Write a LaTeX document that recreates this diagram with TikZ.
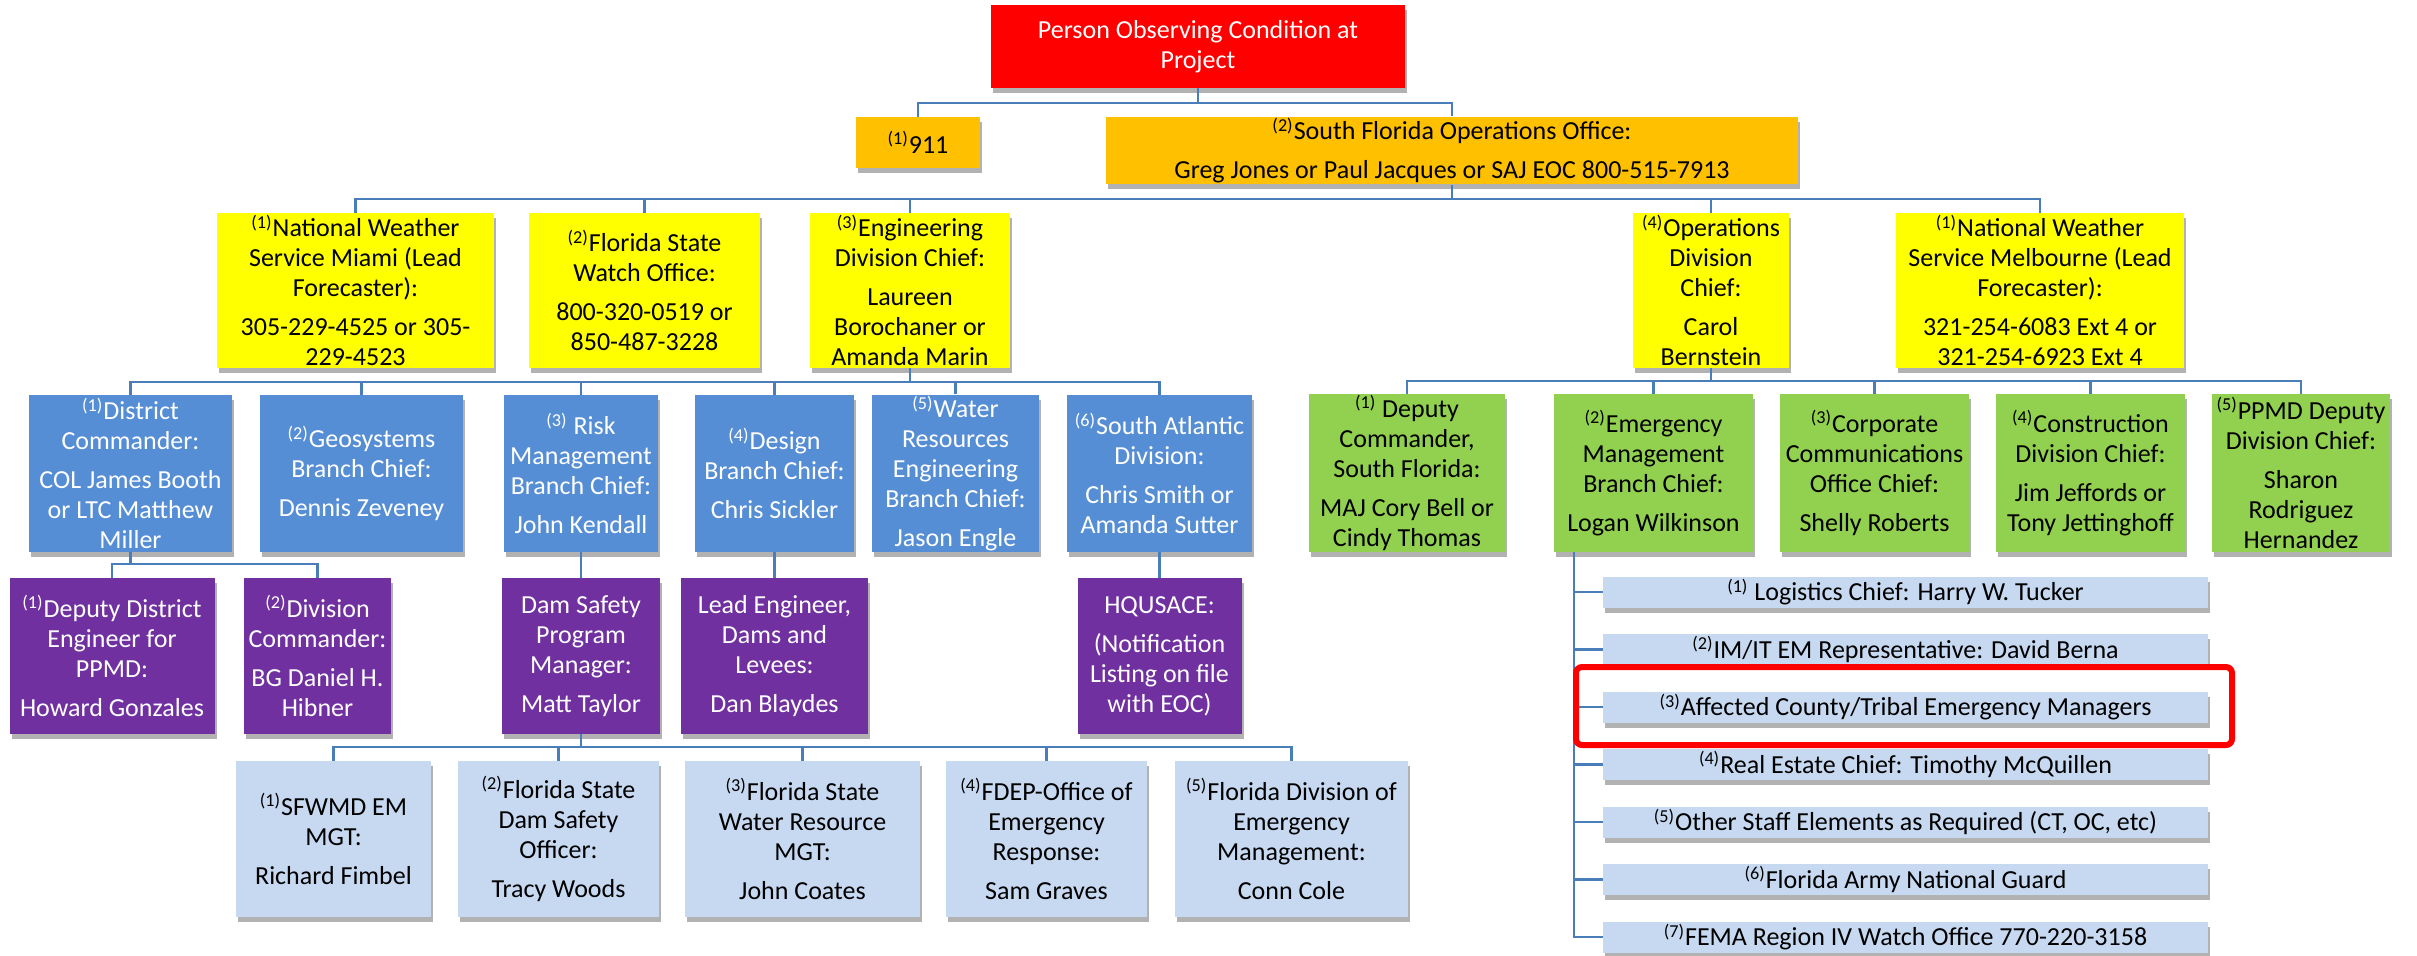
\documentclass[tikz,border=0pt]{standalone}
\usepackage{fontspec}
\setmainfont{Carlito}
\usetikzlibrary{shadows}
\definecolor{cred}{HTML}{FF0000}
\definecolor{corange}{HTML}{FFC000}
\definecolor{cyellow}{HTML}{FFFF00}
\definecolor{cblue}{HTML}{558ED5}
\definecolor{cgreen}{HTML}{92D050}
\definecolor{cpurple}{HTML}{7030A0}
\definecolor{clight}{HTML}{C6D9F1}
\definecolor{cline}{HTML}{4A7EBB}
\newcommand{\sups}[1]{\textsuperscript{(#1)}}
\newcommand{\gp}{\\[4.5pt]}
\tikzset{
  bx/.style={align=center, inner xsep=1pt, inner ysep=0.5pt,
    font=\fontsize{13}{15}\selectfont,
    drop shadow={shadow xshift=1.2pt, shadow yshift=-2.5pt, opacity=0.3, fill=black}},
  redbx/.style={bx, fill=cred, text=white},
  orbx/.style={bx, fill=corange, text=black},
  yebx/.style={bx, fill=cyellow, text=black, minimum height=77.5pt},
  blbx/.style={bx, fill=cblue, text=white, minimum height=78.5pt},
  grbx/.style={bx, fill=cgreen, text=black, minimum height=79pt},
  pubx/.style={bx, fill=cpurple, text=white, minimum height=78pt},
  ltbx/.style={bx, fill=clight, text=black, minimum height=78pt},
  lsbx/.style={bx, fill=clight, text=black, minimum height=15.5pt, minimum width=302.5pt, inner ysep=0pt},
  conn/.style={draw=cline, line width=1.2pt},
  hl/.style={draw=cred, line width=3pt, rounded corners=3pt}
}
\begin{document}
\begin{tikzpicture}[x=0.5pt,y=-0.5pt]
\fill[white] (0,0) rectangle (2417,955);
\useasboundingbox (0,0) rectangle (2417,955);

% top
\node[redbx, minimum width=207pt, minimum height=41.5pt] (red) at (1198,46.5) {Person Observing Condition at\\Project};
\node[orbx, minimum width=62pt, minimum height=25.5pt] (n911) at (918,142.5) {\sups{1}911};
\node[orbx, minimum width=346pt, minimum height=33.5pt] (sfo) at (1452,150.5) {\sups{2}South Florida Operations Office:\gp Greg Jones or Paul Jacques or SAJ EOC 800-515-7913};

% yellow row
\node[yebx, minimum width=138.5pt] (nwsmia) at (355.5,290.5) {\sups{1}National Weather\\Service Miami (Lead\\Forecaster):\gp 305-229-4525 or 305-\\229-4523};
\node[yebx, minimum width=115.5pt] (fsw) at (644.5,290.5) {\sups{2}Florida State\\Watch Office:\gp 800-320-0519 or\\850-487-3228};
\node[yebx, minimum width=100pt] (eng) at (910,290.5) {\sups{3}Engineering\\Division Chief:\gp Laureen\\Borochaner or\\Amanda Marin};
\node[yebx, minimum width=78pt] (ops) at (1711,290.5) {\sups{4}Operations\\Division\\Chief:\gp Carol\\Bernstein};
\node[yebx, minimum width=144pt] (nwsmel) at (2040,290.5) {\sups{1}National Weather\\Service Melbourne (Lead\\Forecaster):\gp 321-254-6083 Ext 4 or\\321-254-6923 Ext 4};

% blue row
\node[blbx, minimum width=101.5pt] (dc) at (130.5,473.5) {\sups{1}District\\Commander:\gp COL James Booth\\or LTC Matthew\\Miller};
\node[blbx, minimum width=101.5pt] (geo) at (361.5,473.5) {\sups{2}Geosystems\\Branch Chief:\gp Dennis Zeveney};
\node[blbx, minimum width=77pt] (risk) at (581,473.5) {\sups{3} Risk\\Management\\Branch Chief:\gp John Kendall};
\node[blbx, minimum width=79.5pt] (design) at (774.5,473.5) {\sups{4}Design\\Branch Chief:\gp Chris Sickler};
\node[blbx, minimum width=83.5pt] (water) at (955.5,473.5) {\sups{5}Water\\Resources\\Engineering\\Branch Chief:\gp Jason Engle};
\node[blbx, minimum width=92.5pt] (saad) at (1159.5,473.5) {\sups{6}South Atlantic\\Division:\gp Chris Smith or\\Amanda Sutter};

% green row
\node[grbx, minimum width=98pt] (dep) at (1407,473) {\sups{1} Deputy\\Commander,\\South Florida:\gp MAJ Cory Bell or\\Cindy Thomas};
\node[grbx, minimum width=99.5pt] (em) at (1653.5,473) {\sups{2}Emergency\\Management\\Branch Chief:\gp Logan Wilkinson};
\node[grbx, minimum width=94.5pt] (cc) at (1874.5,473) {\sups{3}Corporate\\Communications\\Office Chief:\gp Shelly Roberts};
\node[grbx, minimum width=94.5pt] (con) at (2090.5,473) {\sups{4}Construction\\Division Chief:\gp Jim Jeffords or\\Tony Jettinghoff};
\node[grbx, minimum width=89pt] (ppmd) at (2301,473) {\sups{5}PPMD Deputy\\Division Chief:\gp Sharon\\Rodriguez\\Hernandez};

% purple row
\node[pubx, minimum width=102.5pt] (dde) at (112,656) {\sups{1}Deputy District\\Engineer for\\PPMD:\gp Howard Gonzales};
\node[pubx, minimum width=73.5pt] (divc) at (317.5,656) {\sups{2}Division\\Commander:\gp BG Daniel H.\\Hibner};
\node[pubx, minimum width=79pt] (dsp) at (581,656) {Dam Safety\\Program\\Manager:\gp Matt Taylor};
\node[pubx, minimum width=93.5pt] (lead) at (774.5,656) {Lead Engineer,\\Dams and\\Levees:\gp Dan Blaydes};
\node[pubx, minimum width=82pt] (hq) at (1159.5,656) {HQUSACE:\gp (Notification\\Listing on file\\with EOC)};

% light blue row
\node[ltbx, minimum width=97.5pt] (sfwmd) at (333.5,839) {\sups{1}SFWMD EM\\MGT:\gp Richard Fimbel};
\node[ltbx, minimum width=100.5pt] (fdso) at (558.5,839) {\sups{2}Florida State\\Dam Safety\\Officer:\gp Tracy Woods};
\node[ltbx, minimum width=117.5pt] (fswr) at (802.5,839) {\sups{3}Florida State\\Water Resource\\MGT:\gp John Coates};
\node[ltbx, minimum width=100.5pt] (fdep) at (1046.5,839) {\sups{4}FDEP-Office of\\Emergency\\Response:\gp Sam Graves};
\node[ltbx, minimum width=116.5pt] (fdem) at (1291.5,839) {\sups{5}Florida Division of\\Emergency\\Management:\gp Conn Cole};

% list
\node[lsbx] (l1) at (1905.5,592) {\sups{1} Logistics Chief: Harry W. Tucker};
\node[lsbx] (l2) at (1905.5,649.5) {\sups{2}IM/IT EM Representative: David Berna};
\node[lsbx] (l3) at (1905.5,707) {\sups{3}Affected County/Tribal Emergency Managers};
\node[lsbx] (l4) at (1905.5,764.5) {\sups{4}Real Estate Chief: Timothy McQuillen};
\node[lsbx] (l5) at (1905.5,822) {\sups{5}Other Staff Elements as Required (CT, OC, etc)};
\node[lsbx] (l6) at (1905.5,879.5) {\sups{6}Florida Army National Guard};
\node[lsbx] (l7) at (1905.5,937) {\sups{7}FEMA Region IV Watch Office 770-220-3158};

% connectors
\coordinate (j0) at (red.south |- 0,103);
\draw[conn] (red.south) -- (j0);
\draw[conn] (n911.north) |- (j0) -| (sfo.north);

\coordinate (j1) at (sfo.south |- 0,199);
\draw[conn] (sfo.south) -- (j1);
\draw[conn] (nwsmia.north) |- (j1) -| (nwsmel.north);
\foreach \n in {fsw,eng,ops} \draw[conn] (\n.north) -- (\n.north |- j1);

\coordinate (j2) at (eng.south |- 0,382);
\draw[conn] (eng.south) -- (j2);
\draw[conn] (dc.north) |- (j2) -| (saad.north);
\foreach \n in {geo,risk,design,water} \draw[conn] (\n.north) -- (\n.north |- j2);

\coordinate (j3) at (ops.south |- 0,381);
\draw[conn] (ops.south) -- (j3);
\draw[conn] (dep.north) |- (j3) -| (ppmd.north);
\foreach \n in {em,cc,con} \draw[conn] (\n.north) -- (\n.north |- j3);

\coordinate (j4) at (dc.south |- 0,564);
\draw[conn] (dc.south) -- (j4);
\draw[conn] (dde.north) |- (j4) -| (divc.north);
\draw[conn] (risk.south) -- (dsp.north);
\draw[conn] (design.south) -- (lead.north);
\draw[conn] (saad.south) -- (hq.north);

\coordinate (j5) at (dsp.south |- 0,747);
\draw[conn] (dsp.south) -- (j5);
\draw[conn] (sfwmd.north) |- (j5) -| (fdem.north);
\foreach \n in {fdso,fswr,fdep} \draw[conn] (\n.north) -- (\n.north |- j5);

\coordinate (lt) at (em.south -| 1574,0);
\draw[conn] (lt) |- (l7.west);
\foreach \n in {l1,l2,l3,l4,l5,l6} \draw[conn] (\n.west) -- (\n.west -| lt);

% highlight
\draw[hl] (1576,667) rectangle (2232,745);
\end{tikzpicture}
\end{document}
